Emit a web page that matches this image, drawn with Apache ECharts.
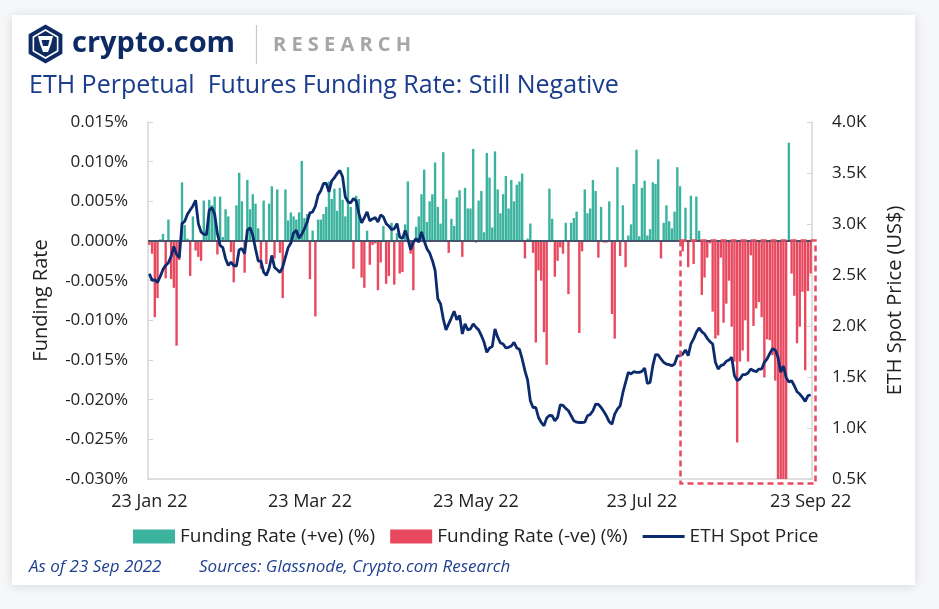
<!DOCTYPE html>
<html>
<head>
<meta charset="utf-8">
<script src="https://cdn.jsdelivr.net/npm/echarts@6/dist/echarts.min.js"></script>
<style>
  html, body { margin: 0; padding: 0; background: #f6f7f9; }
  #card { position: absolute; left: 12px; top: 15px; width: 903px; height: 570px; background: #ffffff; box-shadow: 0 1px 10px rgba(0,0,0,0.13); }
  #c { position: absolute; left: 0; top: 0; width: 939px; height: 609px; }
</style>
</head>
<body>
<div id="card"></div>
<div id="c"></div>
<script>
// ---- DATA ----
const startDate = '2022-01-23';
const tickDates = ['2022-01-23', '2022-03-23', '2022-05-23', '2022-07-23', '2022-09-23'];
const tickLabels = ['23 Jan 22', '23 Mar 22', '23 May 22', '23 Jul 22', '23 Sep 22'];

// Daily funding rate (%), 23 Jan 2022 .. 23 Sep 2022
const fundingRate = [
  -0.0005, -0.0016, -0.0096, -0.0072, 0.0002, 0.0009, -0.0047, 0.0027, -0.0048, -0.0059,
  -0.0132, -0.0024, 0.0074, 0.0020, 0.0003, -0.0044, 0.0031, -0.0012, -0.0020, -0.0025,
  0.0051, 0.0013, 0.0052, 0.0045, 0.0056, -0.0017, 0.0056, 0.0005, 0.0040, 0.0031,
  -0.0014, -0.0052, 0.0045, 0.0086, 0.0050, -0.0040, 0.0077, 0.0040, 0.0059, 0.0047,
  0.0016, -0.0035, 0.0051, -0.0029, 0.0047, 0.0069, -0.0022, 0.0065, -0.0015, -0.0072,
  0.0065, 0.0026, 0.0036, 0.0031, 0.0027, 0.0036, 0.0101, 0.0029, 0.0034, -0.0048,
  0.0013, -0.0095, 0.0027, 0.0027, 0.0034, 0.0043, 0.0075, 0.0053, 0.0066, 0.0038,
  0.0067, 0.0052, 0.0031, 0.0093, 0.0043, -0.0035, 0.0057, 0.0053, -0.0046,
  -0.0059, 0.0013, -0.0030, -0.0005, -0.0003, -0.0062, -0.0027, 0.0019, -0.0054, -0.0044,
  0.0023, -0.0055, 0.0010, -0.0041, -0.0039, 0.0021, 0.0075, -0.0016, -0.0062, 0.0018,
  0.0031, 0.0059, 0.0090, 0.0024, 0.0050, 0.0059, 0.0099, 0.0043, 0.0022, 0.0112,
  0.0053, -0.0015, 0.0028, 0.0019, 0.0055, 0.0064, -0.0020, 0.0067, 0.0041, 0.0041,
  0.0116, -0.0002, 0.0051, 0.0063, 0.0011, 0.0111, 0.0080, 0.0017, 0.0113, 0.0065,
  0.0035, 0.0059, 0.0082, 0.0041, 0.0077, 0.0050, 0.0071, 0.0075, 0.0085, -0.0022,
  0.0003, 0.0022, -0.0015, -0.0128, -0.0037, -0.0050, -0.0115, -0.0156, 0.0066, 0.0028,
  -0.0045, -0.0025, -0.0008, -0.0016, 0.0023, -0.0067, 0.0023, 0.0029, 0.0037, -0.0116,
  -0.0013, 0.0065, 0.0035, 0.0041, 0.0077, 0.0063, -0.0021, 0.0043, -0.0002, -0.0002,
  0.0050, -0.0092, -0.0123, 0.0093, -0.0019, 0.0045, -0.0033, 0.0007, 0.0021, 0.0072,
  0.0115, 0.0006, 0.0067, 0.0076, 0.0007, 0.0015, 0.0074, 0.0072, 0.0103, -0.0022,
  0.0023, 0.0045, 0.0025, 0.0016, 0.0037, 0.0093, 0.0069,
  -0.0013, 0.0042, -0.0033, 0.0057, -0.0029, 0.0056, 0.0013, -0.0068, -0.0046,
  -0.0021, -0.0003, -0.0089, -0.0123, -0.0119, -0.0021, -0.0103, -0.0079, -0.0050, -0.0108,
  -0.0152, -0.0254, -0.0152, -0.0138, -0.0100, -0.0152, -0.0018, -0.0107, -0.0085, -0.0077,
  -0.0096, -0.0172, -0.0124, -0.0125, -0.0144, -0.0176, -0.0300, -0.0300, -0.0300, -0.0300,
  0.0124, -0.0041, -0.0069, -0.0129, -0.0108, -0.0064, -0.0163, -0.0063, -0.0041
];

// ETH spot price (US$)
const ethPrice = [
  2512, 2447, 2453, 2427, 2486, 2555, 2594, 2620, 2683, 2781,
  2702, 2669, 3004, 3027, 3096, 3138, 3177, 3233, 3004, 2922,
  2899, 2896, 3135, 3161, 3096, 2905, 2791, 2768, 2660, 2594,
  2627, 2591, 2588, 2748, 2758, 2709, 2938, 2964, 2889, 2758,
  2637, 2637, 2529, 2496, 2565, 2692,
  2575, 2552, 2525, 2578, 2676, 2768, 2814, 2912, 2938, 2860,
  2899, 2955, 3020, 3109, 3118, 3174, 3282, 3325, 3397, 3397,
  3315, 3423, 3453, 3495, 3525, 3463, 3266, 3217, 3207, 3250,
  3227, 3102, 3010, 3063, 3118, 3030, 3050, 3063, 3020, 3089,
  3069, 3004, 2981, 2945, 2955, 3004, 2873, 2856, 2938, 2856,
  2748, 2823, 2856, 2823, 2922, 2833, 2758, 2715, 2643, 2545,
  2267, 2217, 2070, 1962, 2021, 2080, 2145, 2060, 2103, 1922,
  2021, 1962, 1972, 2021, 1988, 1962, 1906, 1840, 1742, 1785,
  1798, 1972, 1890, 1834, 1824, 1785, 1791, 1804, 1840,
  1785, 1772, 1677, 1562, 1470, 1267, 1201, 1201, 1103, 1054,
  1021, 1097, 1123, 1120, 1070, 1103, 1228, 1221, 1192, 1169,
  1120, 1070, 1057, 1054, 1054, 1057, 1120, 1133, 1169, 1234,
  1231, 1201, 1162, 1116, 1061, 1038, 1136, 1185, 1218, 1346,
  1447, 1546, 1529, 1552, 1546, 1546, 1555, 1588, 1437, 1447,
  1611, 1719, 1716, 1677, 1644, 1627, 1621, 1611, 1627, 1706,
  1709, 1726, 1765, 1709, 1824, 1873, 1939, 1981, 1945, 1922,
  1879, 1847, 1824, 1644, 1578, 1611, 1621, 1654, 1667, 1693,
  1513, 1464, 1480, 1523, 1523, 1539, 1578, 1562, 1552, 1578,
  1578, 1644, 1677, 1732, 1778, 1765, 1693, 1546, 1608, 1496,
  1450, 1464, 1414, 1355, 1333, 1300, 1261, 1316, 1326
];

// ---- BUILD ----
function pad(n) { return n < 10 ? '0' + n : '' + n; }
const dates = [];
(function () {
  const d = new Date(startDate + 'T00:00:00Z');
  for (let i = 0; i < fundingRate.length; i++) {
    dates.push(d.getUTCFullYear() + '-' + pad(d.getUTCMonth() + 1) + '-' + pad(d.getUTCDate()));
    d.setUTCDate(d.getUTCDate() + 1);
  }
})();
const posData = fundingRate.map(v => (v >= 0 ? v : null));
const negData = fundingRate.map(v => (v < 0 ? v : null));

const FONT = 'Open Sans';
const GREEN = '#3bb39f';
const RED = '#e8495f';
const NAVY = '#0c2b6e';
const AXIS = '#d6d6d6';

const chart = echarts.init(document.getElementById('c'), null, { renderer: 'canvas', width: 939, height: 609 });

const hex = (cx, cy, r) => {
  const pts = [];
  for (let k = 0; k < 6; k++) {
    const a = (Math.PI / 180) * (-90 + 60 * k);
    pts.push([cx + r * Math.cos(a), cy + r * Math.sin(a)]);
  }
  return pts;
};

chart.setOption({
  backgroundColor: 'transparent',
  animation: false,
  textStyle: { fontFamily: FONT },
  grid: { left: 148, right: 127, top: 122, bottom: 130, containLabel: false },
  legend: {
    left: 128, top: 522,
    itemWidth: 42, itemHeight: 14, itemGap: 15,
    textStyle: { fontFamily: FONT, fontSize: 19, color: '#222' },
    data: [
      { name: 'Funding Rate (+ve) (%)', icon: 'rect' },
      { name: 'Funding Rate (-ve) (%)', icon: 'rect' },
      { name: 'ETH Spot Price', icon: 'path://M0,0 L42,0 L42,3 L0,3 Z' }
    ]
  },
  xAxis: {
    type: 'category',
    data: dates,
    boundaryGap: true,
    axisLine: { onZero: false, lineStyle: { color: AXIS, width: 1.5 } },
    axisTick: { show: false },
    splitLine: { show: false },
    axisLabel: {
      interval: (idx, val) => tickDates.indexOf(val) >= 0,
      formatter: val => tickLabels[tickDates.indexOf(val)] || '',
      fontFamily: FONT, fontSize: 18, color: '#222', margin: 14
    }
  },
  yAxis: [
    {
      type: 'value', position: 'left', min: -0.03, max: 0.015, interval: 0.005,
      axisLine: { show: true, lineStyle: { color: AXIS, width: 1.5 } },
      axisTick: { show: true, inside: true, length: 5, lineStyle: { color: AXIS } },
      splitLine: { show: false },
      axisLabel: {
        formatter: v => (Math.abs(v) < 1e-9 ? 0 : v).toFixed(3) + '%',
        fontFamily: FONT, fontSize: 17, color: '#222', margin: 20
      },
      name: 'Funding Rate', nameLocation: 'middle', nameRotate: 90, nameGap: 97,
      nameTextStyle: { fontFamily: FONT, fontSize: 20, color: '#222' }
    },
    {
      type: 'value', position: 'right', min: 500, max: 4000, interval: 500,
      axisLine: { show: true, lineStyle: { color: AXIS, width: 1.5 } },
      axisTick: { show: true, inside: true, length: 5, lineStyle: { color: AXIS } },
      splitLine: { show: false },
      axisLabel: {
        formatter: v => (v / 1000).toFixed(1) + 'K',
        fontFamily: FONT, fontSize: 17, color: '#222', margin: 20
      },
      name: 'ETH Spot Price (US$)', nameLocation: 'middle', nameRotate: 90, nameGap: 73,
      nameTextStyle: { fontFamily: FONT, fontSize: 20, color: '#222' }
    }
  ],
  series: [
    {
      name: 'Funding Rate (+ve) (%)', type: 'bar', yAxisIndex: 0, data: posData,
      itemStyle: { color: GREEN }, barCategoryGap: '12%', barGap: '-100%', z: 3,
      markLine: {
        silent: true, symbol: 'none', label: { show: false },
        lineStyle: { color: '#44546a', width: 2, type: 'solid' },
        data: [{ yAxis: 0 }]
      }
    },
    {
      name: 'Funding Rate (-ve) (%)', type: 'bar', yAxisIndex: 0, data: negData,
      itemStyle: { color: RED }, barCategoryGap: '12%', barGap: '-100%', z: 2
    },
    {
      name: 'ETH Spot Price', type: 'line', yAxisIndex: 1, data: ethPrice,
      symbol: 'none', lineStyle: { color: NAVY, width: 2.8 }, itemStyle: { color: NAVY }, z: 5
    }
  ],
  graphic: [
    { type: 'polygon', shape: { points: hex(45.5, 44, 19.5) }, style: { fill: '#0d2a63' }, z: 10 },
    { type: 'polygon', shape: { points: hex(45.5, 44, 14) }, style: { fill: 'none', stroke: '#ffffff', lineWidth: 1.6 }, z: 11 },
    { type: 'polygon', shape: { points: [[38, 36], [53, 36], [51, 44], [48, 52], [43, 52], [40, 44]] }, style: { fill: '#ffffff' }, z: 11 },
    { type: 'polygon', shape: { points: [[41.5, 40], [49.5, 40], [48, 46], [43, 46]] }, style: { fill: '#0d2a63' }, z: 12 },
    { type: 'text', left: 72, top: 29, style: { text: 'crypto.com', fontFamily: FONT, fontWeight: 'bold', fontSize: 29, fill: '#0d2a63' }, z: 10 },
    { type: 'line', shape: { x1: 256.5, y1: 25, x2: 256.5, y2: 64 }, style: { stroke: '#c8c8c8', lineWidth: 1.2 }, z: 10 },
    { type: 'text', left: 273, top: 35, style: { text: 'R E S E A R C H', fontFamily: FONT, fontWeight: 'bold', fontSize: 20, fill: '#a6a6a6' }, z: 10 },
    { type: 'text', left: 29, top: 73, style: { text: 'ETH Perpetual  Futures Funding Rate: Still Negative', fontFamily: FONT, fontSize: 25, fill: '#1a3c8c' }, z: 10 },
    { type: 'text', left: 29, top: 559, style: { text: 'As of 23 Sep 2022', fontFamily: FONT, fontStyle: 'italic', fontSize: 17, fill: '#1f3f8f' }, z: 10 },
    { type: 'text', left: 199, top: 559, style: { text: 'Sources: Glassnode, Crypto.com Research', fontFamily: FONT, fontStyle: 'italic', fontSize: 17, fill: '#1f3f8f' }, z: 10 },
    { type: 'rect', shape: { x: 680.5, y: 240.5, width: 135, height: 243 }, style: { fill: 'none', stroke: RED, lineWidth: 2.5, lineDash: [6, 4] }, z: 100 }
  ]
});
</script>
</body>
</html>
